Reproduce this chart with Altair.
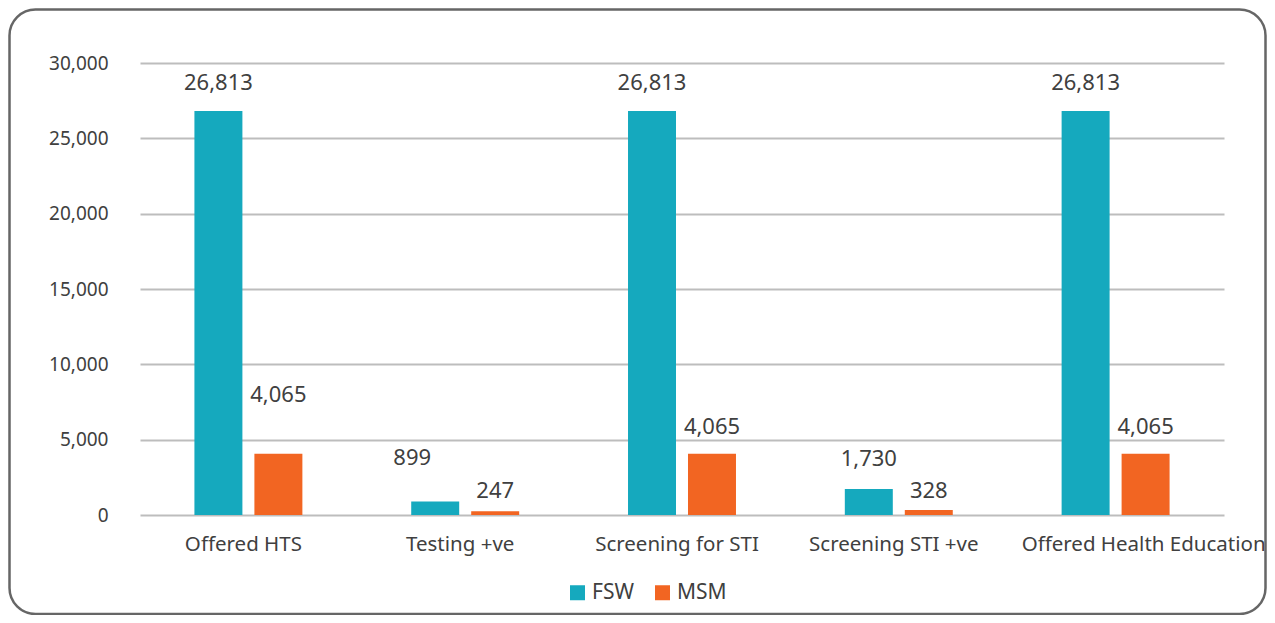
import altair as alt
import pandas as pd

categories = ["Offered HTS", "Testing +ve", "Screening for STI", "Screening STI +ve", "Offered Health Education"]
series = ["FSW", "MSM"]
fsw = [26813, 899, 26813, 1730, 26813]
msm = [4065, 247, 4065, 328, 4065]
colors = ["#15A9BE", "#F26522"]
y_ticks = [0, 5000, 10000, 15000, 20000, 25000, 30000]

# label layout (pixels above bar top), matching the original's manual label placement
lift_fsw = [28, 43, 28, 30, 28]
lift_msm = [59, 20, 27, 19, 27]

rows = []
for i, c in enumerate(categories):
    rows.append({"cat": c, "series": "FSW", "value": fsw[i], "lift": lift_fsw[i], "shift": i == 1})
    rows.append({"cat": c, "series": "MSM", "value": msm[i], "lift": lift_msm[i], "shift": False})
df = pd.DataFrame(rows)

W, H = 1084, 452
YMAX = 30000
FONT = "Noto Sans"
TXT = "#404040"

xaxis = alt.Axis(labelAngle=0, ticks=False, domain=False, labelPadding=19,
                 labelFontSize=20.5, labelColor=TXT, labelFont=FONT, grid=False, labelLimit=0,
                 labelOffset={"condition": {"test": f"datum.value == '{categories[-1]}'", "value": 28},
                              "value": -5})
yaxis = alt.Axis(values=y_ticks, labelExpr="format(datum.value, ',')", ticks=False, domain=False,
                 labelPadding=32, labelFontSize=19, labelColor=TXT, labelFont=FONT,
                 gridColor="#BDBDBD", gridWidth=2)
xscale = alt.Scale(paddingInner=0.502, paddingOuter=0.251)
yscale = alt.Scale(domain=[0, YMAX], nice=False)
xoff = alt.XOffset("series:N", sort=series, scale=alt.Scale(paddingInner=0.2, paddingOuter=0))

base = alt.Chart(df)

bars = base.mark_bar().encode(
    x=alt.X("cat:N", sort=categories, title=None, scale=xscale, axis=xaxis),
    xOffset=xoff,
    y=alt.Y("value:Q", scale=yscale, title=None, axis=yaxis),
    color=alt.Color("series:N", sort=series, scale=alt.Scale(domain=series, range=colors),
                    legend=alt.Legend(title=None, orient="none", direction="horizontal",
                                      legendX=427, legendY=519, symbolType="square", symbolSize=225,
                                      symbolStrokeWidth=0, labelFontSize=21, labelFont=FONT,
                                      labelColor=TXT, labelOffset=4, columnPadding=18)),
)


def label_layer(flt, dx):
    return base.transform_filter(flt).transform_calculate(
        ly=f"datum.value + datum.lift * {YMAX} / {H}"
    ).mark_text(fontSize=22, font=FONT, color=TXT, baseline="middle", dx=dx).encode(
        x=alt.X("cat:N", sort=categories, title=None, scale=xscale, axis=xaxis),
        xOffset=xoff,
        y=alt.Y("ly:Q", scale=yscale, title=None, axis=yaxis),
        text=alt.Text("value:Q", format=","),
    )


labels_main = label_layer("!datum.shift", 0)
labels_shift = label_layer("datum.shift", -23)

frame = alt.Chart(pd.DataFrame({"k": [0]})).mark_rect(
    fill="transparent", stroke="#666666", strokeWidth=2.5, cornerRadius=26
).encode(
    x=alt.value(-130.5), x2=alt.value(1125.5), y=alt.value(-53.5), y2=alt.value(551)
)

chart = alt.layer(frame, bars, labels_main, labels_shift).properties(
    width=W, height=H,
    padding={"left": 132, "top": 55, "right": 43, "bottom": 100},
    autosize=alt.AutoSizeParams(type="none"),
).configure(font=FONT).configure_view(stroke=None)

chart.save("out.html", embed_options={"renderer": "svg", "actions": False})
